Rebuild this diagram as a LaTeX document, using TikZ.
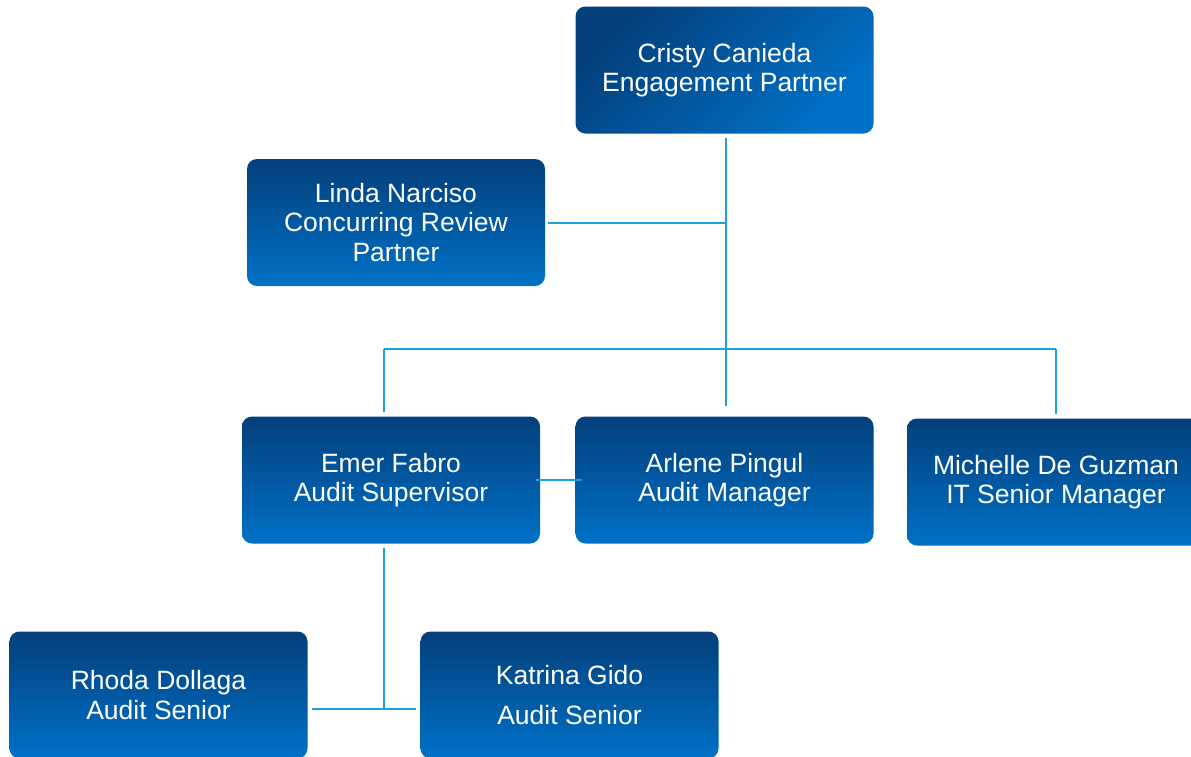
\documentclass[tikz,border=0pt]{standalone}
\usepackage{fontspec}
\setmainfont{Liberation Sans}
\definecolor{boxdark}{HTML}{033F7B}
\definecolor{boxlight}{HTML}{0071C7}
\definecolor{conncol}{HTML}{1BA1DB}
\begin{document}
\begin{tikzpicture}[x=1pt,y=-1pt,
  person/.style={rectangle, rounded corners=10pt, minimum width=298pt, minimum height=127pt,
    top color=boxdark, bottom color=boxlight, text=white, align=center, inner sep=0pt,
    font=\fontsize{26.5}{29.5}\selectfont},
  diagbox/.style={person, shading angle=45},
  conn/.style={draw=conncol, line width=2pt}]
\clip (0,0) rectangle (1191,756);
\fill[white] (0,0) rectangle (1191,756);
% boxes
\node[diagbox] (top) at (724.5,70) {Cristy Canieda\\Engagement Partner};
\node[person] (linda) at (396,222.5) {Linda Narciso\\Concurring Review\\Partner};
\node[person] (emer) at (391,480) {Emer Fabro\\Audit Supervisor};
\node[person] (arlene) at (724.5,480) {Arlene Pingul\\Audit Manager};
\node[person] (michelle) at (1056,482) {Michelle De Guzman\\IT Senior Manager};
\node[person] (rhoda) at (158.5,695) {Rhoda Dollaga\\Audit Senior};
\node[person] (katrina) at (569.5,695) {Katrina Gido\\[11pt]Audit Senior};
% connectors
\coordinate (busL) at (384,349);
\coordinate (busR) at (1056,349);
\coordinate (sub) at (384,709);
\draw[conn, shorten <=4pt, shorten >=10pt] ([xshift=1.5pt]top.south) -- ([xshift=1.5pt]arlene.north);
\draw[conn, shorten <=3pt] (linda.east) -- (linda.east -| arlene.north);
\draw[conn] (busL) -- (busR);
\draw[conn, shorten >=4pt] (busL) -- (busL |- emer.north);
\draw[conn, shorten >=4pt] (busR) -- (busR |- michelle.north);
\draw[conn, shorten <=-4pt, shorten >=-7pt] (emer.east) -- (arlene.west);
\draw[conn, shorten <=4pt] (sub |- emer.south) -- (sub);
\draw[conn, shorten <=4pt, shorten >=4pt] (rhoda.east |- sub) -- (katrina.west |- sub);
\end{tikzpicture}
\end{document}
